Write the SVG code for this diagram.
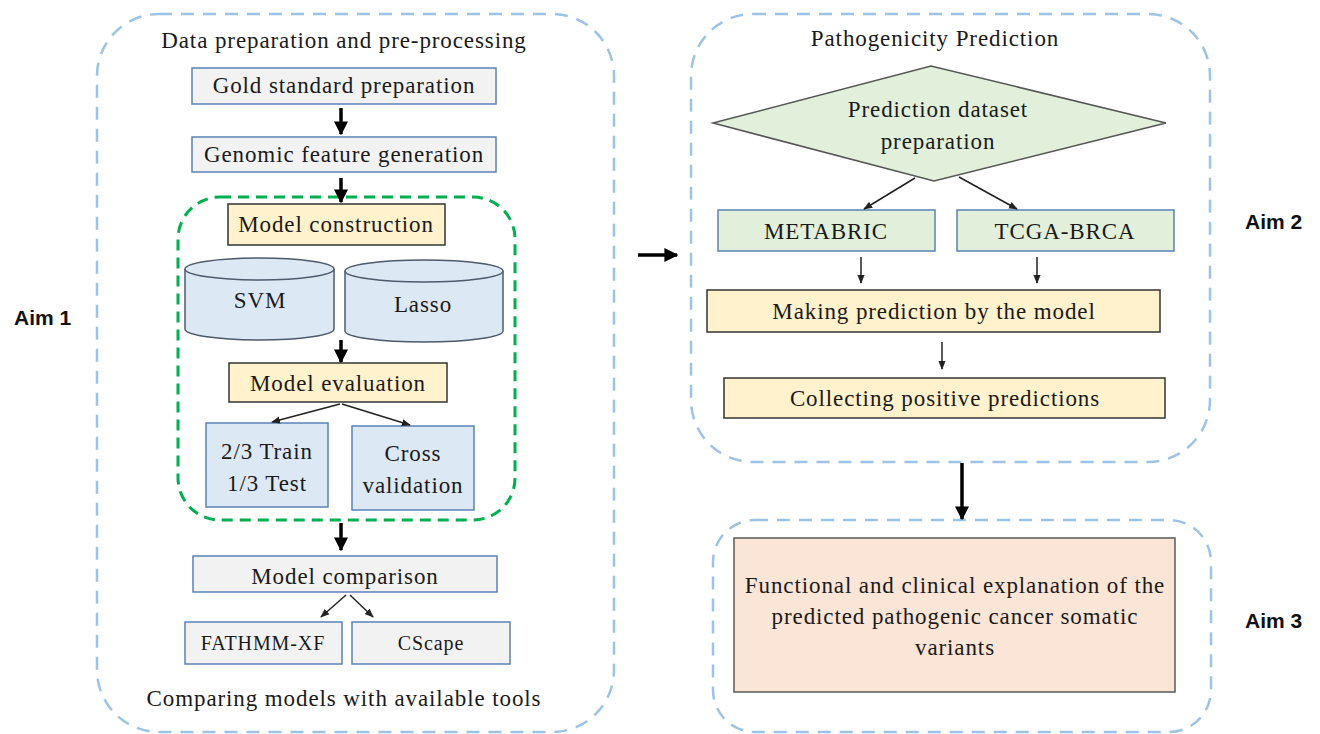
<svg xmlns="http://www.w3.org/2000/svg" width="1320" height="734" viewBox="0 0 1320 734">
<style>
text{font-family:"Liberation Serif","Times New Roman",serif;font-size:23px;letter-spacing:0.9px;fill:#1a1a1a;text-anchor:middle}
.aim{font-family:"Liberation Sans",Arial,sans-serif;font-weight:bold;font-size:21px;letter-spacing:0;text-anchor:start;fill:#111}
.sm{font-size:20px}
.outer{fill:none;stroke:#9dc3e6;stroke-width:2.5;stroke-dasharray:13 9}
.green{fill:none;stroke:#00b050;stroke-width:3;stroke-dasharray:11 7}
.gray{fill:#f2f2f2;stroke:#5b82b5;stroke-width:1.5}
.blue{fill:#dde8f5;stroke:#5b82b5;stroke-width:1.5}
.yellow{fill:#fff2cc;stroke:#333;stroke-width:1.5}
.lgreen{fill:#e2efda;stroke:#5b82b5;stroke-width:1.5}
.cyl{fill:#dde8f5;stroke:#4d5a6a;stroke-width:1.5}
.thick{stroke:#000;stroke-width:3.5;fill:none;marker-end:url(#big)}
.thin{stroke:#222;stroke-width:1.5;fill:none;marker-end:url(#small)}
</style>
<defs>
<marker id="big" viewBox="0 0 10 10" refX="9" refY="5" markerWidth="4" markerHeight="4" markerUnits="strokeWidth" orient="auto"><path d="M0,0 L10,5 L0,10 z" fill="#000"/></marker>
<marker id="small" viewBox="0 0 10 10" refX="9" refY="5" markerWidth="6" markerHeight="6" markerUnits="strokeWidth" orient="auto"><path d="M0,1 L10,5 L0,9 z" fill="#222"/></marker>
</defs>
<rect width="1320" height="734" fill="#fff"/>

<g id="aim1-container">
<rect class="outer" x="97" y="14" width="517" height="718" rx="62"/>
<text x="344" y="48">Data preparation and pre-processing</text>
<text x="344" y="706">Comparing models with available tools</text>
</g>
<g id="model-group"><rect class="green" x="178" y="197" width="337" height="323" rx="42"/></g>
<g id="aim2-container">
<rect class="outer" x="691" y="14" width="519" height="448" rx="62"/>
<text x="935" y="46">Pathogenicity Prediction</text>
</g>
<g id="aim3-container"><rect class="outer" x="713" y="520" width="498" height="212" rx="42"/></g>

<g id="aim1-label"><text class="aim" x="14" y="325">Aim 1</text></g>
<g id="aim2-label"><text class="aim" x="1245" y="229">Aim 2</text></g>
<g id="aim3-label"><text class="aim" x="1245" y="628">Aim 3</text></g>

<g id="gold"><rect class="gray" x="192" y="68" width="304" height="36"/><text x="344" y="93">Gold standard preparation</text></g>
<g id="genomic"><rect class="gray" x="192" y="137" width="304" height="35"/><text x="344" y="162">Genomic feature generation</text></g>
<g id="construction"><rect class="yellow" x="228" y="204" width="217" height="41"/><text x="336" y="232">Model construction</text></g>
<g id="svm">
<path class="cyl" d="M185,269 L185,329 A74.5,11 0 0 0 334,329 L334,269 A74.5,11 0 0 0 185,269 Z"/>
<path class="cyl" d="M185,269 A74.5,11 0 0 0 334,269"/>
<text x="260" y="308">SVM</text>
</g>
<g id="lasso">
<path class="cyl" d="M345,271 L345,331 A79,11 0 0 0 503,331 L503,271 A79,11 0 0 0 345,271 Z"/>
<path class="cyl" d="M345,271 A79,11 0 0 0 503,271"/>
<text x="423" y="312">Lasso</text>
</g>
<g id="evaluation"><rect class="yellow" x="229" y="363" width="218" height="39"/><text x="338" y="391">Model evaluation</text></g>
<g id="train"><rect class="blue" x="206" y="423" width="122" height="84"/><text x="267" y="459">2/3 Train</text><text x="267" y="491">1/3 Test</text></g>
<g id="cv"><rect class="blue" x="352" y="426" width="122" height="84"/><text x="413" y="461">Cross</text><text x="413" y="493">validation</text></g>
<g id="comparison"><rect class="gray" x="193" y="556" width="304" height="36"/><text x="345" y="584">Model comparison</text></g>
<g id="fathmm"><rect class="gray" x="185" y="622" width="157" height="42"/><text class="sm" x="263" y="650">FATHMM-XF</text></g>
<g id="cscape"><rect class="gray" x="352" y="622" width="158" height="42"/><text class="sm" x="431" y="650">CScape</text></g>

<g id="dataset"><polygon points="713,123 931,66 1166,123 934,181" fill="#e2efda" stroke="#555" stroke-width="1.5"/><text x="938" y="117">Prediction dataset</text><text x="938" y="149">preparation</text></g>
<g id="metabric"><rect class="lgreen" x="718" y="210" width="217" height="41"/><text x="826" y="239">METABRIC</text></g>
<g id="tcga"><rect class="lgreen" x="957" y="210" width="217" height="41"/><text x="1065" y="239">TCGA-BRCA</text></g>
<g id="making"><rect class="yellow" x="707" y="290" width="453" height="42"/><text x="934" y="319">Making prediction by the model</text></g>
<g id="collecting"><rect class="yellow" x="724" y="378" width="441" height="40"/><text x="945" y="406">Collecting positive predictions</text></g>
<g id="functional"><rect x="734" y="538" width="441" height="154" fill="#fbe5d6" stroke="#595959" stroke-width="1.5"/>
<text x="955" y="593">Functional and clinical explanation of the</text>
<text x="955" y="624">predicted pathogenic cancer somatic</text>
<text x="955" y="655">variants</text></g>

<g id="connectors">
<line class="thick" x1="341" y1="108" x2="341" y2="134"/>
<line class="thick" x1="341" y1="178" x2="341" y2="202"/>
<line class="thick" x1="341" y1="340" x2="341" y2="362"/>
<line class="thin" x1="340" y1="404" x2="272" y2="422"/>
<line class="thin" x1="342" y1="404" x2="410" y2="425"/>
<line class="thick" x1="341" y1="523" x2="341" y2="550"/>
<line class="thin" x1="346" y1="595" x2="321" y2="617"/>
<line class="thin" x1="350" y1="595" x2="373" y2="617"/>
<line class="thick" x1="638" y1="255" x2="677" y2="255"/>
<line class="thin" x1="915" y1="178" x2="864" y2="209"/>
<line class="thin" x1="959" y1="177" x2="1017" y2="209"/>
<line class="thin" x1="861" y1="257" x2="861" y2="283"/>
<line class="thin" x1="1037" y1="257" x2="1037" y2="283"/>
<line class="thin" x1="942" y1="342" x2="942" y2="369"/>
<line class="thick" x1="962" y1="463" x2="962" y2="519"/>
</g>
</svg>
